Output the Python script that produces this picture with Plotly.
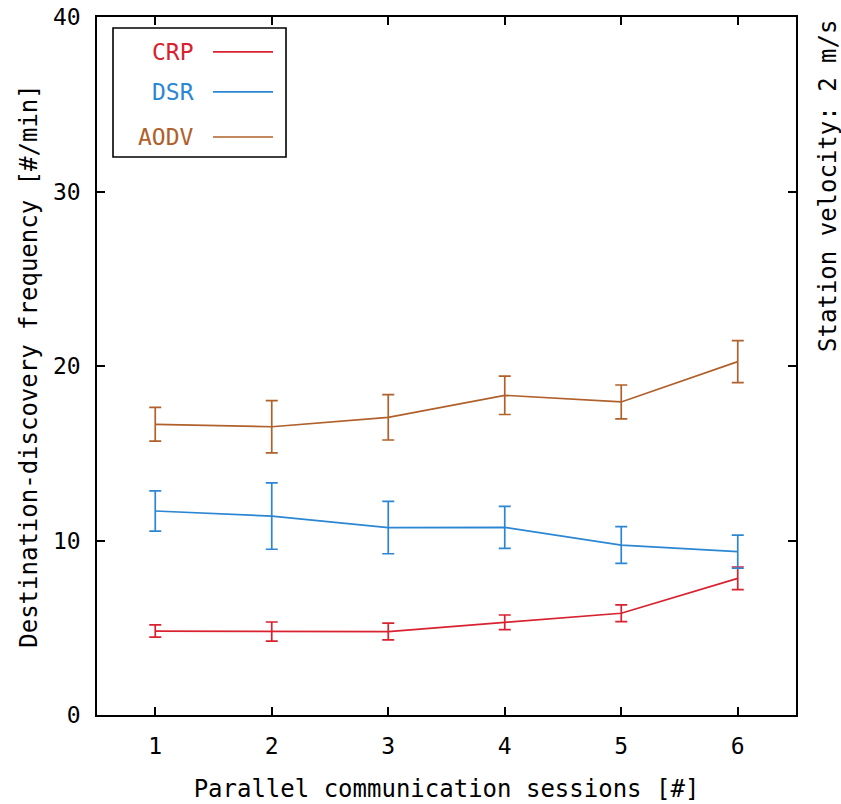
import plotly.graph_objects as go

sessions = [1, 2, 3, 4, 5, 6]
crp = [4.81, 4.78, 4.78, 5.31, 5.83, 7.83]
crp_err = [0.35, 0.55, 0.48, 0.42, 0.48, 0.65]
dsr = [11.69, 11.40, 10.74, 10.75, 9.74, 9.36]
dsr_err = [1.15, 1.9, 1.5, 1.2, 1.05, 0.95]
aodv = [16.66, 16.52, 17.06, 18.32, 17.94, 20.25]
aodv_err = [0.97, 1.5, 1.3, 1.1, 0.97, 1.2]

names = ["CRP", "DSR", "AODV"]
colors = ["#d8222f", "#2b86d3", "#b0602a"]
series = [(crp, crp_err), (dsr, dsr_err), (aodv, aodv_err)]

FONT = "DejaVu Sans Mono"
FS = 24
TFS = 23

fig = go.Figure()
for name, col, (vals, errs) in zip(names, colors, series):
    fig.add_trace(go.Scatter(
        x=sessions, y=vals, mode="lines", name=name,
        line=dict(color=col, width=1.7),
        error_y=dict(type="data", array=errs, visible=True,
                     color=col, thickness=1.7, width=6),
        showlegend=False,
    ))

# manual gnuplot-style legend
legend_y = [0.9499, 0.8926, 0.8281]
fig.add_shape(type="rect", xref="paper", yref="paper",
              x0=0.0229, x1=0.2704, y0=0.7994, y1=0.9842,
              line=dict(color="black", width=1.6), fillcolor="rgba(0,0,0,0)")
for name, col, ly in zip(names, colors, legend_y):
    fig.add_annotation(xref="paper", yref="paper", x=0.1416, y=ly,
                       text=name, showarrow=False, xanchor="right", yanchor="middle",
                       font=dict(family=FONT, size=TFS, color=col))
    fig.add_shape(type="line", xref="paper", yref="paper",
                  x0=0.166, x1=0.2518, y0=ly, y1=ly,
                  line=dict(color=col, width=1.7))

fig.add_annotation(xref="paper", yref="paper", x=1.0, xshift=32, y=0.758,
                   text="Station velocity: 2 m/s", showarrow=False,
                   textangle=-90, xanchor="center", yanchor="middle",
                   font=dict(family=FONT, size=FS, color="black"))

fig.update_layout(
    width=841, height=804,
    margin=dict(l=97, r=45, t=17, b=89),
    paper_bgcolor="white", plot_bgcolor="white",
    font=dict(family=FONT, size=TFS, color="black"),
    xaxis=dict(range=[0.5, 6.5], tickmode="array", tickvals=sessions,
               ticks="inside", ticklen=8, tickwidth=1.5, tickcolor="black",
               ticklabelstandoff=10, automargin=False,
               tickfont=dict(family=FONT, size=TFS),
               showline=True, linecolor="black", linewidth=1.6, mirror="ticks",
               showgrid=False, zeroline=False,
               title=dict(text="Parallel communication sessions [#]", standoff=22,
                          font=dict(family=FONT, size=FS))),
    yaxis=dict(range=[0, 40], tickmode="array", tickvals=[0, 10, 20, 30, 40],
               ticks="inside", ticklen=8, tickwidth=1.5, tickcolor="black",
               ticklabelstandoff=10, automargin=False,
               tickfont=dict(family=FONT, size=TFS),
               showline=True, linecolor="black", linewidth=1.6, mirror="ticks",
               showgrid=False, zeroline=False,
               title=dict(text="Destination-discovery frequency [#/min]", standoff=8,
                          font=dict(family=FONT, size=FS))),
)

fig.write_html("out.html")
